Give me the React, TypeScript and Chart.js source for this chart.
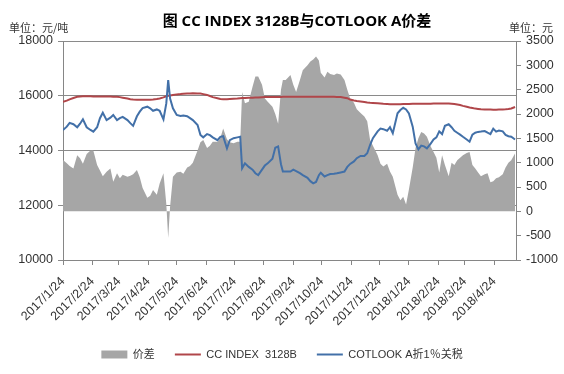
import React, { useEffect, useRef } from "react";
import { Chart, registerables } from "chart.js";

Chart.register(...registerables);

const dates = [
  "2017/1/24", "2017/1/28", "2017/1/31", "2017/2/4", "2017/2/8", "2017/2/11", "2017/2/14", "2017/2/18", "2017/2/22", "2017/2/25",
  "2017/3/1", "2017/3/4", "2017/3/7", "2017/3/11", "2017/3/15", "2017/3/18", "2017/3/22", "2017/3/25", "2017/3/28", "2017/4/2",
  "2017/4/5", "2017/4/8", "2017/4/12", "2017/4/15", "2017/4/18", "2017/4/23", "2017/4/26", "2017/4/29", "2017/5/3", "2017/5/6",
  "2017/5/10", "2017/5/13", "2017/5/15", "2017/5/17", "2017/5/20", "2017/5/24", "2017/5/28", "2017/5/31", "2017/6/4", "2017/6/7",
  "2017/6/10", "2017/6/15", "2017/6/18", "2017/6/21", "2017/6/25", "2017/6/28", "2017/7/1", "2017/7/6", "2017/7/9", "2017/7/12",
  "2017/7/16", "2017/7/19", "2017/7/23", "2017/7/27", "2017/7/30", "2017/8/1", "2017/8/4", "2017/8/8", "2017/8/12", "2017/8/15",
  "2017/8/18", "2017/8/22", "2017/8/25", "2017/8/28", "2017/9/2", "2017/9/5", "2017/9/8", "2017/9/11", "2017/9/13", "2017/9/16",
  "2017/9/21", "2017/9/24", "2017/9/27", "2017/10/1", "2017/10/4", "2017/10/9", "2017/10/12", "2017/10/15", "2017/10/18", "2017/10/21",
  "2017/10/23", "2017/10/27", "2017/10/30", "2017/11/2", "2017/11/6", "2017/11/9", "2017/11/13", "2017/11/17", "2017/11/20", "2017/11/23",
  "2017/11/27", "2017/11/30", "2017/12/4", "2017/12/8", "2017/12/11", "2017/12/14", "2017/12/17", "2017/12/22", "2017/12/25", "2017/12/28",
  "2018/1/1", "2018/1/4", "2018/1/7", "2018/1/12", "2018/1/15", "2018/1/18", "2018/1/21", "2018/1/24", "2018/1/28", "2018/1/31",
  "2018/2/3", "2018/2/6", "2018/2/9", "2018/2/12", "2018/2/16", "2018/2/19", "2018/2/22", "2018/2/25", "2018/2/28", "2018/3/3",
  "2018/3/7", "2018/3/10", "2018/3/13", "2018/3/16", "2018/3/19", "2018/3/22", "2018/3/26", "2018/3/29", "2018/4/1", "2018/4/4",
  "2018/4/7", "2018/4/10", "2018/4/14", "2018/4/17", "2018/4/20", "2018/4/23", "2018/4/26", "2018/4/29", "2018/5/3", "2018/5/6",
  "2018/5/9", "2018/5/12", "2018/5/16",
];

// 价差 (right axis, 元)
const spread = [
  1055, 990, 930, 880, 1150, 1090, 980, 1180, 1250, 1250,
  950, 840, 720, 815, 880, 610, 780, 680, 750, 710,
  730, 760, 850, 700, 480, 280, 320, 440, 340, 570,
  780, 150, -550, 100, 710, 800, 815, 770, 900, 930,
  1000, 1250, 1420, 1466, 1300, 1350, 1431, 1431, 1500, 1700,
  1480, 1420, 1400, 1430, 1430, 2450, 2220, 2250, 2560, 2770,
  2770, 2600, 2320, 2250, 2150, 2000, 1800, 2500, 2700, 2700,
  2800, 2600, 2450, 2700, 2900, 3000, 3080, 3120, 3180, 3100,
  2850, 2750, 2870, 2820, 2800, 2830, 2810, 2700, 2500, 2320,
  2230, 2100, 2020, 1950, 1850, 1470, 1350, 1150, 980, 920,
  980, 820, 710, 340, 230, 300, 140, 450, 900, 1300,
  1500, 1630, 1600, 1530, 1330, 1220, 1100, 800, 1150, 950,
  720, 1000, 950, 1050, 1100, 1150, 1200, 1220, 950, 880,
  800, 720, 760, 780, 600, 620, 680, 700, 760, 900,
  1000, 1050, 1190,
];

// CC INDEX 3128B (left axis, 元/吨)
const ccIndex = [
  15780, 15820, 15870, 15920, 15960, 15975, 15980, 15980, 15980, 15975,
  15975, 15970, 15970, 15970, 15970, 15965, 15960, 15950, 15930, 15900,
  15870, 15860, 15850, 15850, 15850, 15850, 15850, 15860, 15880, 15900,
  15940, 15980, 16000, 16010, 16030, 16050, 16060, 16070, 16080, 16085,
  16090, 16085, 16080, 16060, 16030, 15990, 15950, 15910, 15880, 15870,
  15870, 15880, 15890, 15900, 15910, 15915, 15920, 15925, 15930, 15935,
  15940, 15945, 15950, 15950, 15950, 15955, 15955, 15955, 15960, 15960,
  15960, 15960, 15960, 15965, 15965, 15965, 15965, 15965, 15965, 15965,
  15965, 15965, 15960, 15960, 15960, 15955, 15950, 15930, 15910, 15860,
  15830, 15810, 15790, 15770, 15750, 15740, 15735, 15725, 15720, 15710,
  15700, 15690, 15690, 15690, 15690, 15695, 15700, 15700, 15705, 15705,
  15710, 15710, 15710, 15710, 15710, 15715, 15715, 15720, 15720, 15720,
  15720, 15710, 15700, 15680, 15660, 15630, 15600, 15570, 15550, 15530,
  15520, 15510, 15500, 15500, 15495, 15490, 15490, 15495, 15500, 15505,
  15515, 15535, 15590,
];

// COTLOOK A折1％关税 (left axis, 元/吨)
const cotlook = [
  14750, 14870, 15010, 14960, 14850, 14980, 15140, 14850, 14750, 14690,
  14850, 15180, 15380, 15110, 15200, 15300, 15110, 15180, 15230, 15110,
  15000, 14900, 15250, 15420, 15550, 15600, 15540, 15450, 15500, 15450,
  15140, 15720, 16570, 15900, 15540, 15300, 15260, 15280, 15250, 15180,
  15110, 14930, 14570, 14480, 14600, 14560, 14480, 14380, 14500, 14520,
  14080, 14380, 14450, 14480, 14500, 13350, 13530, 13400, 13300, 13170,
  13100, 13300, 13450, 13530, 13700, 14100, 14150, 13500, 13230, 13230,
  13230, 13300, 13250, 13170, 13100, 13000, 12880, 12800, 12850, 13100,
  13190, 13050, 13100, 13140, 13150, 13170, 13200, 13230, 13400, 13510,
  13600, 13720, 13800, 13800, 13900, 14200, 14450, 14700, 14800, 14780,
  14720, 14850, 14630, 15360, 15480, 15560, 15500, 15350, 14870, 14260,
  14040, 14180, 14150, 14080, 14250, 14400, 14480, 14700, 14600, 14900,
  14960, 14850, 14720, 14650, 14580, 14500, 14400, 14320, 14580, 14650,
  14680, 14690, 14710, 14650, 14600, 14800, 14690, 14730, 14700, 14570,
  14520, 14500, 14400,
];

const tickLabels = [
  "2017/1/24", "2017/2/24", "2017/3/24", "2017/4/24", "2017/5/24", "2017/6/24", "2017/7/24", "2017/8/24",
  "2017/9/24", "2017/10/24", "2017/11/24", "2017/12/24", "2018/1/24", "2018/2/24", "2018/3/24", "2018/4/24",
];

const AXIS_START = "2017/1/24";
const AXIS_END = "2018/5/17";

const W = 564;
const H = 374;
const PLOT_BOTTOM = 260;
const PAD_BOTTOM = 4;

const FONT_FAMILY = "'Liberation Sans', 'Noto Sans CJK SC', sans-serif";
const AXIS_COLOR = "#868686";
const TEXT_COLOR = "#333333";

function toUTC(s: string): number {
  const [y, m, d] = s.split("/").map(Number);
  return Date.UTC(y, m - 1, d);
}
const dayOf = (s: string) => (toUTC(s) - toUTC(AXIS_START)) / 86400000;

const textPlugin = {
  id: "texts",
  beforeDraw(chart: any) {
    const ctx = chart.ctx;
    ctx.save();
    ctx.fillStyle = "#ffffff";
    ctx.fillRect(0, 0, chart.width, chart.height);
    ctx.restore();
  },
  afterDraw(chart: any) {
    const ctx = chart.ctx;
    ctx.save();
    ctx.fillStyle = "#000000";
    ctx.textBaseline = "middle";
    ctx.textAlign = "center";
    ctx.font = "bold 15px 'Open Sans', 'Noto Sans CJK SC', sans-serif";
    ctx.fillText("图 CC INDEX 3128B与COTLOOK A价差", 297, 22);
    ctx.fillStyle = TEXT_COLOR;
    ctx.font = "11px 'Noto Sans CJK SC', sans-serif";
    ctx.textAlign = "left";
    ctx.fillText("单位：元/吨", 9, 28);
    ctx.fillText("单位：元", 509, 28);
    ctx.restore();
  },
};

export default function App() {
  const ref = useRef<HTMLCanvasElement | null>(null);

  useEffect(() => {
    if (!ref.current) return;
    const xs = dates.map(dayOf);
    const tickFont = { family: FONT_FAMILY, size: 12.5 };

    const chart = new Chart(ref.current, {
      type: "line",
      data: {
        datasets: [
          {
            label: "价差",
            data: xs.map((x, i) => ({ x, y: spread[i] })),
            yAxisID: "y1",
            fill: "origin",
            backgroundColor: "#a6a6a6",
            borderColor: "#a6a6a6",
            borderWidth: 0,
            pointRadius: 0,
            tension: 0,
            order: 3,
            pointStyle: "rect",
          },
          {
            label: "CC INDEX  3128B",
            data: xs.map((x, i) => ({ x, y: ccIndex[i] })),
            yAxisID: "y",
            fill: false,
            borderColor: "#b0464a",
            backgroundColor: "#b0464a",
            borderWidth: 2,
            pointRadius: 0,
            tension: 0,
            order: 2,
            pointStyle: "line",
          },
          {
            label: "COTLOOK A折1％关税",
            data: xs.map((x, i) => ({ x, y: cotlook[i] })),
            yAxisID: "y",
            fill: false,
            borderColor: "#4270a8",
            backgroundColor: "#4270a8",
            borderWidth: 2,
            pointRadius: 0,
            tension: 0,
            order: 1,
            pointStyle: "line",
          },
        ],
      },
      options: {
        animation: false,
        responsive: false,
        layout: { padding: { top: 41, left: 0, right: 0, bottom: PAD_BOTTOM } },
        scales: {
          x: {
            type: "linear",
            min: 0,
            max: dayOf(AXIS_END),
            afterBuildTicks: (s: any) => {
              s.ticks = tickLabels.map((l) => ({ value: dayOf(l) }));
            },
            afterFit: (s: any) => {
              const lh = s.chart.legend ? s.chart.legend.height : 0;
              s.height = H - PLOT_BOTTOM - lh - PAD_BOTTOM;
            },
            ticks: {
              autoSkip: false,
              minRotation: 45,
              maxRotation: 45,
              font: tickFont,
              color: TEXT_COLOR,
              padding: 9,
              callback: (_v: any, i: number) => tickLabels[i],
            },
            grid: { drawOnChartArea: false, color: AXIS_COLOR, tickLength: 5 },
            border: { color: AXIS_COLOR },
          },
          y: {
            position: "left",
            min: 10000,
            max: 18000,
            afterFit: (s: any) => {
              s.width = 63;
            },
            ticks: {
              stepSize: 2000,
              font: tickFont,
              color: TEXT_COLOR,
              padding: 5,
              callback: (v: any) => String(v),
            },
            grid: { color: "#8a8a8a", tickLength: 5 },
            border: { color: AXIS_COLOR },
          },
          y1: {
            position: "right",
            min: -1000,
            max: 3500,
            afterFit: (s: any) => {
              s.width = W - 516;
            },
            ticks: {
              stepSize: 500,
              font: tickFont,
              color: TEXT_COLOR,
              padding: 5,
              callback: (v: any) => String(v),
            },
            grid: { drawOnChartArea: false, color: AXIS_COLOR, tickLength: 5 },
            border: { color: AXIS_COLOR },
          },
        },
        plugins: {
          title: { display: false },
          tooltip: { enabled: false },
          legend: {
            display: true,
            position: "bottom",
            labels: {
              usePointStyle: true,
              pointStyleWidth: 26,
              boxHeight: 8,
              padding: 20,
              color: TEXT_COLOR,
              font: { family: FONT_FAMILY, size: 11 },
              sort: (a: any, b: any) => a.datasetIndex - b.datasetIndex,
            },
          },
        },
      },
      plugins: [textPlugin],
    } as any);

    return () => chart.destroy();
  }, []);

  return (
    <div style={{ position: "absolute", left: 0, top: 0, width: W, height: H, background: "#fff" }}>
      <canvas ref={ref} width={W} height={H} style={{ display: "block", width: W, height: H }} />
    </div>
  );
}
